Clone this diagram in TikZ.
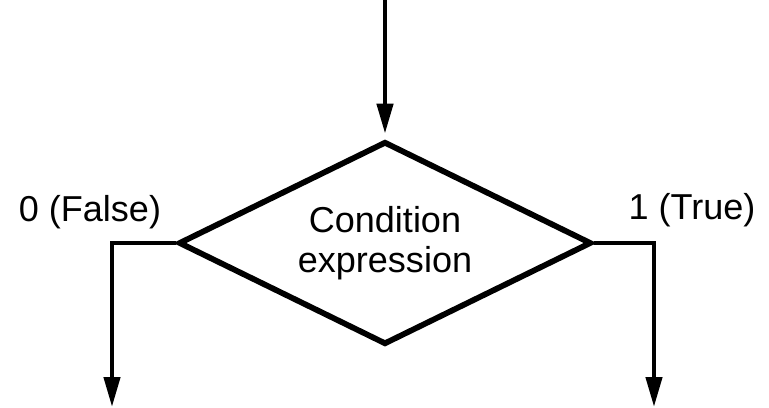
\documentclass[tikz,border=0pt]{standalone}
\usepackage{fontspec}
\setmainfont{Liberation Sans}
\usepackage{tikz}
\usetikzlibrary{arrows.meta,positioning,shapes.geometric}

\begin{document}
\begin{tikzpicture}[
    x=0.02cm, y=-0.02cm,
    decision/.style={diamond, draw, line width=0.115cm, aspect=2, inner sep=0pt,
        minimum width=8.26cm, minimum height=4.06cm, align=center,
        font=\fontsize{20.5}{22.7}\selectfont},
    flow/.style={-{Triangle[length=0.6cm, width=0.32cm]}, line width=0.088cm},
    branch/.style={font=\fontsize{20.5}{22.7}\selectfont, anchor=base}
]
    \useasboundingbox (0,0) rectangle (769,407);

    % Decision
    \node[decision] (cond) at (385,243) {Condition\\expression};
    \coordinate (entry) at (385,0);
    \coordinate (falseend) at (112,407);
    \coordinate (trueend) at (654,407);

    % Branch labels
    \node[branch] (falselbl) at (90,221) {0 (False)};
    \node[branch] (truelbl) at (692,219) {1 (True)};

    % Connectors
    \draw[flow, shorten >=0.1cm] (entry) -- (cond.north);
    \draw[flow] (cond.west) -| (falseend);
    \draw[flow] (cond.east) -| (trueend);
\end{tikzpicture}
\end{document}
